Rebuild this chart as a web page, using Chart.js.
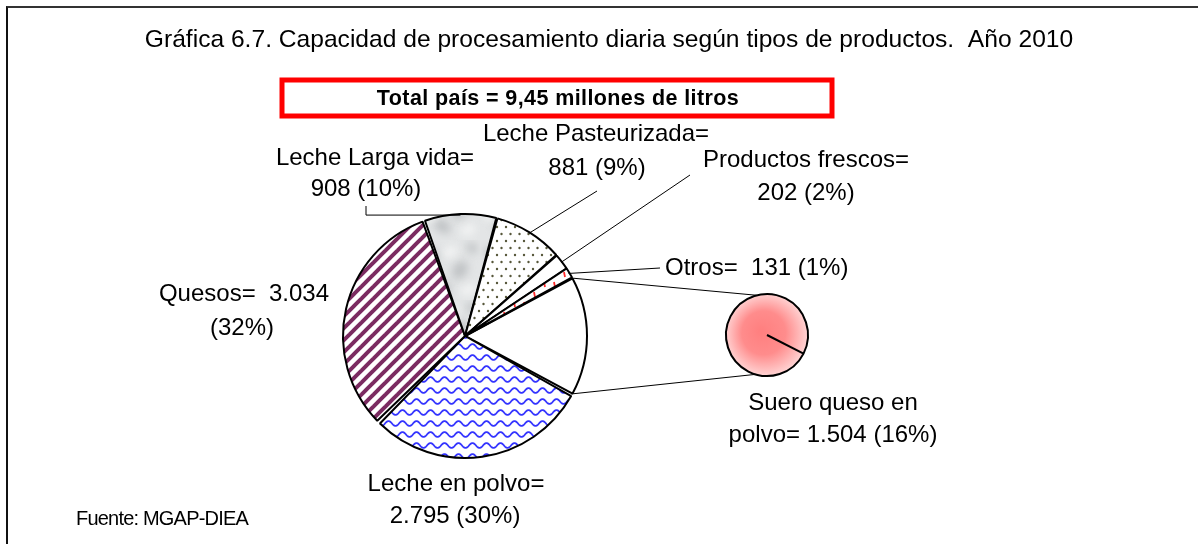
<!DOCTYPE html>
<html>
<head>
<meta charset="utf-8">
<script src="https://cdn.jsdelivr.net/npm/chart.js@4.4.0/dist/chart.umd.min.js"></script>
<style>
    html, body { margin: 0; padding: 0; background: #fff; }
    #wrap { position: relative; width: 1198px; height: 544px; overflow: hidden; }
    #marco { position: absolute; left: 6px; top: 6px; width: 1300px; height: 700px;
             border-top: 2px solid #333; border-left: 2px solid #111; }
    canvas { position: absolute; left: 0; top: 0; }
</style>
</head>
<body>
<div id="wrap">
    <div id="marco"></div>
    <canvas id="principal" width="1198" height="544"></canvas>
    <canvas id="secundario" width="1198" height="544"></canvas>
</div>
<script>
// datos (miles de litros diarios), orden de dibujo en el sentido horario
const categorias = ['Suero queso en polvo', 'Leche en polvo', 'Quesos', 'Leche Larga vida',
                    'Leche Pasteurizada', 'Productos frescos', 'Otros'];
const valores = [1504, 2795, 3034, 908, 881, 202, 131];

// torta secundaria: desglose del sector "Suero queso en polvo"
const categoriasSecundaria = ['Suero queso en polvo'];
const valoresSecundaria = [1504];

const titulo = 'Gráfica 6.7. Capacidad de procesamiento diaria según tipos de productos.  Año 2010';
const totalTexto = 'Total país = 9,45 millones de litros';
const fuente = 'Fuente: MGAP-DIEA';

const total = valores.reduce((s, v) => s + v, 0);

function fmt(n) {
    return String(n).replace(/\B(?=(\d{3})+(?!\d))/g, '.');
}
function pct(v) {
    return '(' + Math.round(v / total * 100) + '%)';
}

// ---- rellenos ----
function tile(w, h, draw) {
    const c = document.createElement('canvas');
    c.width = w; c.height = h;
    const g = c.getContext('2d');
    draw(g, w, h);
    return g.createPattern(c, 'repeat');
}

const rayas = tile(12, 12, (g, s) => {
    g.fillStyle = '#fff';
    g.fillRect(0, 0, s, s);
    g.strokeStyle = '#7b2b61';
    g.lineWidth = 4;
    [-s, 0, s].forEach(o => {
        g.beginPath();
        g.moveTo(o - 4, s + 4);
        g.lineTo(o + s + 4, -4);
        g.stroke();
    });
});

const ondas = tile(14, 11, (g, w, h) => {
    g.fillStyle = '#fff';
    g.fillRect(0, 0, w, h);
    g.strokeStyle = '#3434ff';
    g.lineWidth = 1.8;
    g.beginPath();
    for (let x = -1; x <= w + 1; x += 0.5) {
        const y = 5.5 + 2.4 * Math.sin(x / w * Math.PI * 2);
        if (x === -1) g.moveTo(x, y); else g.lineTo(x, y);
    }
    g.stroke();
});

const marmol = tile(60, 60, (g, w, h) => {
    g.fillStyle = '#e3e5e6';
    g.fillRect(0, 0, w, h);
    g.filter = 'blur(4px)';
    g.fillStyle = '#bfc2c4';
    [[12, 14, 9, 5], [40, 30, 7, 10], [22, 46, 10, 6], [52, 8, 6, 5]].forEach(([x, y, rx, ry]) => {
        g.beginPath();
        g.ellipse(x, y, rx, ry, 0.6, 0, Math.PI * 2);
        g.fill();
    });
    g.fillStyle = '#f4f5f5';
    [[30, 12, 8, 5], [10, 34, 6, 8], [48, 50, 8, 5]].forEach(([x, y, rx, ry]) => {
        g.beginPath();
        g.ellipse(x, y, rx, ry, -0.4, 0, Math.PI * 2);
        g.fill();
    });
});

const puntos = tile(9, 14, (g, w, h) => {
    g.fillStyle = '#fff';
    g.fillRect(0, 0, w, h);
    g.fillStyle = '#57573a';
    [[2, 3], [6.5, 10]].forEach(([x, y]) => {
        g.beginPath();
        g.arc(x, y, 1.2, 0, Math.PI * 2);
        g.fill();
    });
});

const rojos = tile(10, 10, (g, w, h) => {
    g.fillStyle = '#fff';
    g.fillRect(0, 0, w, h);
    g.strokeStyle = '#ff2a2a';
    g.lineWidth = 1.8;
    g.beginPath();
    g.moveTo(4, 2);
    g.lineTo(5, 7);
    g.stroke();
});

const rellenos = ['#ffffff', ondas, rayas, marmol, puntos, '#ffffff', rojos];

// el sector del suero queda centrado a la derecha (3 en punto)
const rotacion = 90 - (valores[0] / total * 360) / 2;

function punto(arc, ang, r) {
    return { x: arc.x + Math.cos(ang) * r, y: arc.y + Math.sin(ang) * r };
}

function linea(ctx, pts) {
    ctx.beginPath();
    ctx.moveTo(pts[0].x, pts[0].y);
    for (let i = 1; i < pts.length; i++) ctx.lineTo(pts[i].x, pts[i].y);
    ctx.stroke();
}

function texto(ctx, str, x, y, font, align) {
    ctx.font = font;
    ctx.textAlign = align || 'center';
    ctx.textBaseline = 'middle';
    ctx.fillStyle = '#000';
    ctx.fillText(str, x, y);
}

const FUENTE_ETQ = '24px "Liberation Sans", Arial, sans-serif';

const encabezado = {
    id: 'encabezado',
    beforeDraw(chart) {
        const ctx = chart.ctx;
        ctx.save();
        texto(ctx, titulo, 609, 40, '24.6px "Liberation Sans", Arial, sans-serif');
        ctx.strokeStyle = '#ff0000';
        ctx.lineWidth = 5;
        ctx.strokeRect(282, 80, 550, 36);
        ctx.letterSpacing = '0.4px';
        texto(ctx, totalTexto, 558, 99, 'bold 21.5px "Liberation Sans", Arial, sans-serif');
        ctx.letterSpacing = '-0.8px';
        texto(ctx, fuente, 76, 519, '20px "Liberation Sans", Arial, sans-serif', 'left');
        ctx.restore();
    }
};

const etiquetas = {
    id: 'etiquetas',
    afterDraw(chart) {
        const ctx = chart.ctx;
        const arcs = chart.getDatasetMeta(0).data;
        const mid = i => (arcs[i].startAngle + arcs[i].endAngle) / 2;
        const borde = i => punto(arcs[i], mid(i), arcs[i].outerRadius);
        ctx.save();
        ctx.strokeStyle = '#000';
        ctx.lineWidth = 1;

        // Leche Larga vida
        const b3 = borde(3);
        linea(ctx, [{ x: 366, y: 206 }, { x: 366, y: b3.y }, b3]);
        texto(ctx, categorias[3] + '=', 375, 158, FUENTE_ETQ);
        texto(ctx, fmt(valores[3]) + ' ' + pct(valores[3]), 366, 189, FUENTE_ETQ);

        // Leche Pasteurizada
        linea(ctx, [{ x: 597, y: 191 }, borde(4)]);
        texto(ctx, categorias[4] + '=', 596, 134, FUENTE_ETQ);
        texto(ctx, fmt(valores[4]) + ' ' + pct(valores[4]), 597, 168, FUENTE_ETQ);

        // Productos frescos
        linea(ctx, [{ x: 690, y: 175 }, borde(5)]);
        texto(ctx, categorias[5] + '=', 806, 160, FUENTE_ETQ);
        texto(ctx, fmt(valores[5]) + ' ' + pct(valores[5]), 806, 193, FUENTE_ETQ);

        // Otros
        linea(ctx, [{ x: 660, y: 268 }, borde(6)]);
        texto(ctx, categorias[6] + '=  ' + fmt(valores[6]) + ' ' + pct(valores[6]), 665, 268, FUENTE_ETQ, 'left');

        // Quesos
        texto(ctx, categorias[2] + '=  ' + fmt(valores[2]), 244, 294, FUENTE_ETQ);
        texto(ctx, pct(valores[2]), 242, 328, FUENTE_ETQ);

        // Leche en polvo
        texto(ctx, categorias[1] + '=', 456, 484, FUENTE_ETQ);
        texto(ctx, fmt(valores[1]) + ' ' + pct(valores[1]), 455, 516, FUENTE_ETQ);

        // Suero queso en polvo
        const pal = categorias[0].split(' ');
        texto(ctx, pal.slice(0, -1).join(' '), 833, 403, FUENTE_ETQ);
        texto(ctx, pal[pal.length - 1] + '= ' + fmt(valores[0]) + ' ' + pct(valores[0]), 833, 435, FUENTE_ETQ);
        ctx.restore();
    }
};

const graficoPrincipal = new Chart(document.getElementById('principal'), {
    type: 'pie',
    data: {
        labels: categorias,
        datasets: [{
            data: valores,
            backgroundColor: rellenos,
            borderColor: '#000',
            borderWidth: 2,
            spacing: 2
        }]
    },
    options: {
        responsive: false,
        animation: false,
        rotation: rotacion,
        layout: { padding: { left: 342, right: 610, top: 213, bottom: 85 } },
        plugins: {
            legend: { display: false },
            tooltip: { enabled: false }
        }
    },
    plugins: [encabezado, etiquetas]
});

// lineas de union entre ambas tortas
const uniones = {
    id: 'uniones',
    afterDraw(chart) {
        const ctx = chart.ctx;
        const a = graficoPrincipal.getDatasetMeta(0).data[0];
        const s = chart.getDatasetMeta(0).data[0];
        const r = s.outerRadius;
        ctx.save();
        ctx.strokeStyle = '#000';
        ctx.lineWidth = 1;
        linea(ctx, [punto(a, a.startAngle, a.outerRadius), punto(s, -Math.PI * 0.58, r)]);
        linea(ctx, [punto(a, a.endAngle, a.outerRadius), punto(s, Math.PI * 0.59, r)]);
        ctx.restore();
    }
};

function degradeRosa(context) {
    const chart = context.chart;
    const area = chart.chartArea;
    if (!area) return '#ff9999';
    const cx = (area.left + area.right) / 2;
    const cy = (area.top + area.bottom) / 2;
    const g = chart.ctx.createRadialGradient(cx - 6, cy - 4, 2, cx, cy, 46);
    g.addColorStop(0, '#ff8080');
    g.addColorStop(0.45, '#ff8c8c');
    g.addColorStop(1, '#ffe4e4');
    return g;
}

const graficoSecundario = new Chart(document.getElementById('secundario'), {
    type: 'pie',
    data: {
        labels: categoriasSecundaria,
        datasets: [{
            data: valoresSecundaria,
            backgroundColor: degradeRosa,
            borderColor: '#000',
            borderWidth: 2
        }]
    },
    options: {
        responsive: false,
        animation: false,
        rotation: 117,
        layout: { padding: { left: 725, right: 389, top: 293, bottom: 167 } },
        plugins: {
            legend: { display: false },
            tooltip: { enabled: false }
        }
    },
    plugins: [uniones]
});
</script>
</body>
</html>
